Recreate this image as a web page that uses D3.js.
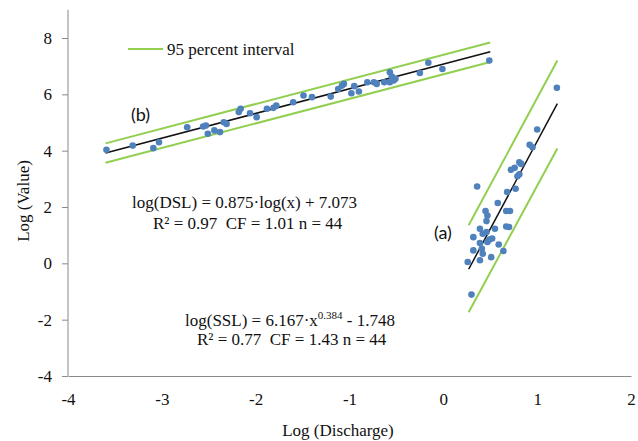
<!DOCTYPE html>
<html>
<head>
<meta charset="utf-8">
<script src="https://cdn.jsdelivr.net/npm/d3@7"></script>
<style>
  body { margin: 0; background: #fff; }
  svg { display: block; }
  text { white-space: pre; }
  .serif { font-family: "Liberation Serif", "Times New Roman", serif; fill: #111; }
</style>
</head>
<body>
<svg id="chart" width="638" height="441"></svg>
<script>
// Series (b): dissolved load, log discharge vs log value
const discB = [-3.59, -3.31, -3.09, -3.03, -2.73, -2.56, -2.53, -2.51, -2.44, -2.38, -2.34, -2.31,
  -2.18, -2.16, -2.06, -1.99, -1.88, -1.81, -1.78, -1.60, -1.49, -1.40, -1.20, -1.12,
  -1.08, -1.06, -0.98, -0.95, -0.90, -0.81, -0.74, -0.71, -0.63, -0.57, -0.57, -0.55,
  -0.53, -0.51, -0.25, -0.16, -0.01, 0.49];
const valB = [4.03, 4.18, 4.09, 4.30, 4.83, 4.86, 4.89, 4.60, 4.72, 4.66, 5.01, 4.95,
  5.37, 5.49, 5.33, 5.19, 5.49, 5.52, 5.60, 5.72, 5.96, 5.90, 5.92, 6.19,
  6.31, 6.37, 6.04, 6.29, 6.10, 6.43, 6.43, 6.37, 6.43, 6.78, 6.43, 6.63,
  6.49, 6.55, 6.76, 7.12, 6.90, 7.20];

// Series (a): suspended load
const discA = [1.21, 1.00, 0.92, 0.95, 0.81, 0.83, 0.76, 0.72, 0.81, 0.79, 0.36, 0.68,
  0.77, 0.58, 0.45, 0.47, 0.67, 0.71, 0.46, 0.39, 0.42, 0.46, 0.55, 0.67,
  0.70, 0.32, 0.39, 0.49, 0.52, 0.47, 0.59, 0.32, 0.41, 0.42, 0.64, 0.51,
  0.26, 0.39, 0.30];
const valA = [6.23, 4.75, 4.21, 4.12, 3.59, 3.53, 3.39, 3.32, 3.16, 3.09, 2.73, 2.53,
  2.65, 2.14, 1.86, 1.70, 1.86, 1.86, 1.50, 1.23, 1.05, 1.11, 1.23, 1.31,
  1.29, 0.93, 0.72, 0.84, 0.88, 0.76, 0.67, 0.46, 0.52, 0.34, 0.44, 0.22,
  0.05, 0.11, -1.11];

// Regression line and 95 percent interval endpoints [x, y]
const fitB = [[-3.6, 3.92], [0.5, 7.51]];
const upperB = [[-3.6, 4.26], [0.5, 7.84]];
const lowerB = [[-3.6, 3.57], [0.5, 7.15]];
const fitA = [[0.27, -0.21], [1.215, 5.67]];
const upperA = [[0.27, 1.35], [1.215, 7.2]];
const lowerA = [[0.27, -1.74], [1.215, 4.08]];

const xTicks = [-4, -3, -2, -1, 0, 1, 2];
const yTicks = [-4, -2, 0, 2, 4, 6, 8];

const svg = d3.select("#chart");
const x = d3.scaleLinear().domain([-4, 2]).range([68, 631]);
const y = d3.scaleLinear().domain([-4, 8]).range([376, 38]);

const axisColor = "#8a8a8a";
const green = "#92cf50";
const blue = "#4f81bd";
const serif = "'Liberation Serif', 'Times New Roman', serif";

// y axis
const yAxis = svg.append("g").attr("transform", `translate(${x(-4)},0)`)
  .call(d3.axisLeft(y).tickValues(yTicks).tickSize(6).tickSizeOuter(0).tickPadding(10).tickFormat(d => String(d)));
yAxis.select(".domain").remove();
yAxis.append("line").attr("x1", 0).attr("x2", 0).attr("y1", y(9)).attr("y2", y(-4))
  .attr("stroke", axisColor);
yAxis.selectAll(".tick line").attr("stroke", axisColor);
yAxis.selectAll("text").style("font-family", serif).style("font-size", "17px").attr("fill", "#111");

// x axis
const xAxis = svg.append("g").attr("transform", `translate(0,${y(-4)})`)
  .call(d3.axisBottom(x).tickValues(xTicks).tickSize(0).tickPadding(17).tickFormat(d => String(d)));
xAxis.select(".domain").attr("stroke", axisColor);
xAxis.selectAll("text").style("font-family", serif).style("font-size", "17px").attr("fill", "#111");

svg.append("text").attr("class", "serif")
  .attr("transform", "translate(29,201) rotate(-90)")
  .attr("text-anchor", "middle").style("font-size", "17px").text("Log (Value)");
svg.append("text").attr("class", "serif")
  .attr("x", 338).attr("y", 436).attr("text-anchor", "middle")
  .style("font-size", "17px").text("Log (Discharge)");

const line = d3.line().x(d => x(d[0])).y(d => y(d[1]));
const g = svg.append("g");
[upperB, lowerB, upperA, lowerA].forEach(seg => {
  g.append("path").attr("d", line(seg)).attr("stroke", green).attr("stroke-width", 2).attr("fill", "none");
});
[fitB, fitA].forEach(seg => {
  g.append("path").attr("d", line(seg)).attr("stroke", "#111").attr("stroke-width", 1.5).attr("fill", "none");
});

const ptsB = discB.map((d, i) => [d, valB[i]]);
const ptsA = discA.map((d, i) => [d, valA[i]]);
g.selectAll(".pt").data(ptsB.concat(ptsA)).join("circle")
  .attr("class", "pt")
  .attr("cx", d => x(d[0])).attr("cy", d => y(d[1]))
  .attr("r", 3.3).attr("fill", blue);

// legend
svg.append("line").attr("x1", 128).attr("x2", 163).attr("y1", 49).attr("y2", 49)
  .attr("stroke", green).attr("stroke-width", 2);
svg.append("text").attr("class", "serif").attr("x", 167).attr("y", 55)
  .style("font-size", "17px").text("95 percent interval");

// labels
svg.append("text").attr("x", 131).attr("y", 121)
  .style("font-family", "Lato, 'Open Sans', sans-serif").style("font-size", "18px").attr("fill", "#111").text("(b)");
svg.append("text").attr("x", 434).attr("y", 239)
  .style("font-family", "Lato, 'Open Sans', sans-serif").style("font-size", "18px").attr("fill", "#111").text("(a)");

// equations
svg.append("text").attr("class", "serif").attr("x", 132).attr("y", 208)
  .style("font-size", "17px").text("log(DSL) = 0.875·log(x) + 7.073");
svg.append("text").attr("class", "serif").attr("x", 153).attr("y", 229)
  .style("font-size", "17px").text("R² = 0.97  CF = 1.01 n = 44");

const eqA = svg.append("text").attr("class", "serif").attr("x", 185).attr("y", 326)
  .style("font-size", "17px");
eqA.append("tspan").text("log(SSL) = 6.167·x");
eqA.append("tspan").attr("dy", -7).style("font-size", "11px").text("0.384");
eqA.append("tspan").attr("dy", 7).text(" - 1.748");
svg.append("text").attr("class", "serif").attr("x", 197).attr("y", 345)
  .style("font-size", "17px").text("R² = 0.77  CF = 1.43 n = 44");
</script>
</body>
</html>
